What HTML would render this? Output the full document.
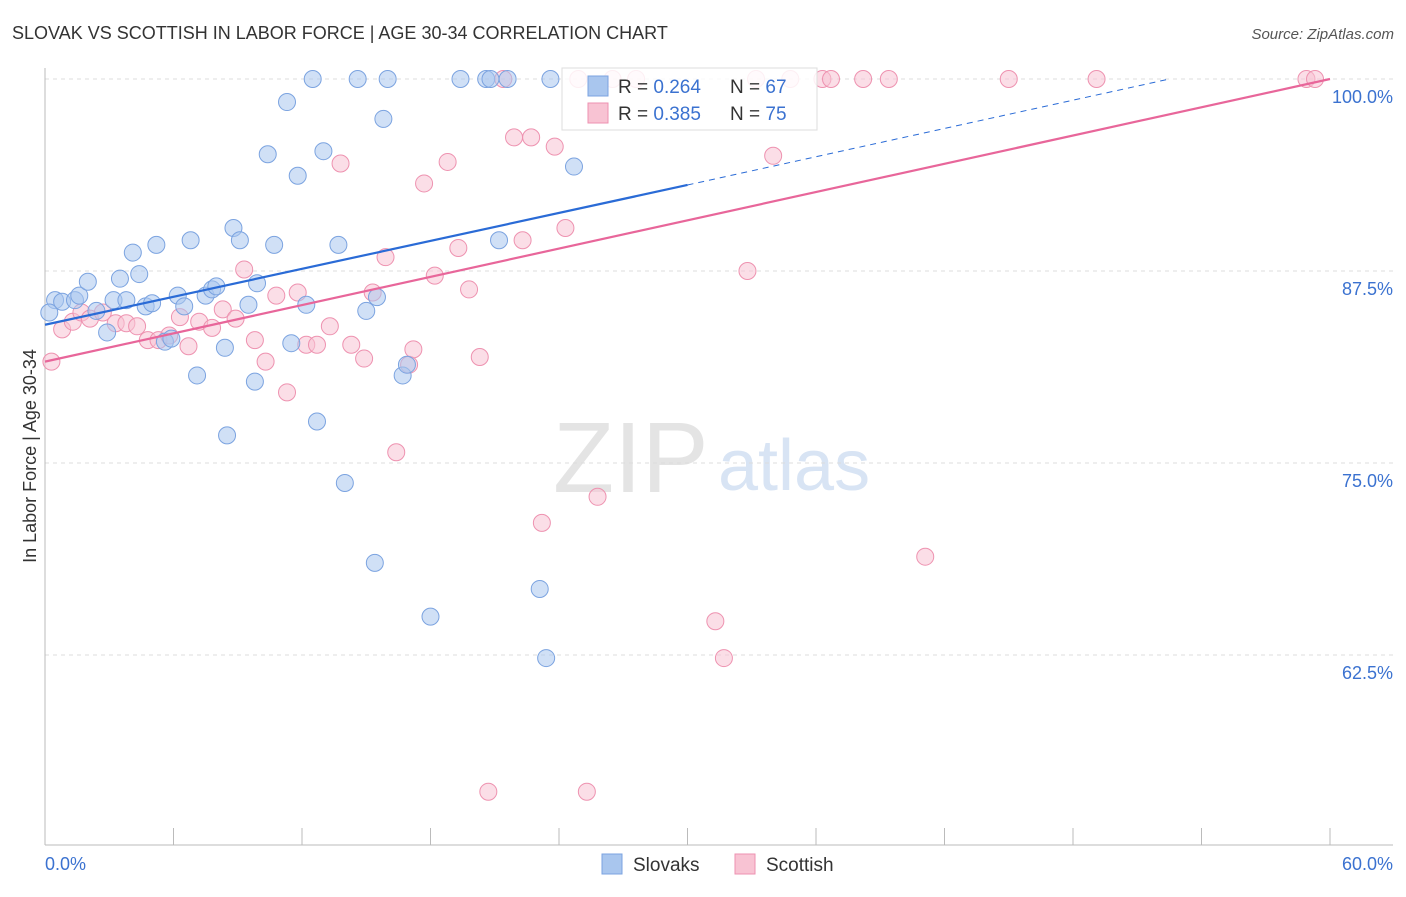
<!DOCTYPE html>
<html><head><meta charset="utf-8"><style>
body{margin:0;background:#fff;font-family:"Liberation Sans",sans-serif}
svg text{font-family:"Liberation Sans",sans-serif}
</style></head><body>
<svg id="c" width="1406" height="892">
<text x="12" y="39" font-size="18" fill="#333">SLOVAK VS SCOTTISH IN LABOR FORCE | AGE 30-34 CORRELATION CHART</text>
<text x="1394" y="39" font-size="15" fill="#555" font-style="italic" text-anchor="end">Source: ZipAtlas.com</text>
<text x="36" y="456" font-size="18" fill="#333" transform="rotate(-90 36 456)" text-anchor="middle">In Labor Force | Age 30-34</text>
<text x="553" y="492" font-size="100" fill="#e4e4e4" font-family="Liberation Serif">ZIP</text>
<text x="718" y="490" font-size="72" fill="#d8e4f4">atlas</text>
<g id="grid"></g><g id="marks"></g>
<g>
<rect x="562" y="68" width="255" height="62" fill="#fff" fill-opacity="0.85" stroke="#ddd"/>
<rect x="588" y="76" width="20" height="20" fill="#a9c6ee" stroke="#7ba3e0"/>
<text x="618" y="93" font-size="19" fill="#333">R = <tspan fill="#3b72d0">0.264</tspan></text>
<text x="730" y="93" font-size="19" fill="#333">N = <tspan fill="#3b72d0">67</tspan></text>
<rect x="588" y="103" width="20" height="20" fill="#f8c3d3" stroke="#ee92b0"/>
<text x="618" y="120" font-size="19" fill="#333">R = <tspan fill="#3b72d0">0.385</tspan></text>
<text x="730" y="120" font-size="19" fill="#333">N = <tspan fill="#3b72d0">75</tspan></text>
</g>
<g>
<rect x="602" y="854" width="20" height="20" fill="#a9c6ee" stroke="#7ba3e0"/>
<text x="633" y="871" font-size="19" fill="#333">Slovaks</text>
<rect x="735" y="854" width="20" height="20" fill="#f8c3d3" stroke="#ee92b0"/>
<text x="766" y="871" font-size="19" fill="#333">Scottish</text>
</g>
</svg>
<script>
const xTicks=[0,6,12,18,24,30,36,42,48,54,60];
const yTicks=[100,87.5,75,62.5];
const slovakX=[0.47,0.2,0.8,1.4,1.6,2.0,2.4,2.9,3.2,3.5,3.8,4.1,4.4,4.7,5.0,5.2,5.6,5.9,6.2,6.5,6.8,7.1,7.5,7.8,8.0,8.4,8.5,8.8,9.1,9.5,9.8,9.9,10.4,10.7,11.3,11.5,11.8,12.2,12.5,12.7,13.0,13.7,14.0,14.6,15.0,15.4,15.5,15.8,16.0,16.7,16.9,18.0,19.4,20.6,20.8,21.2,21.6,23.1,23.4,23.6,24.7];
const slovakY=[85.6,84.8,85.5,85.6,85.9,86.8,84.9,83.5,85.6,87.0,85.6,88.7,87.3,85.2,85.4,89.2,82.9,83.1,85.9,85.2,89.5,80.7,85.9,86.3,86.5,82.5,76.8,90.3,89.5,85.3,80.3,86.7,95.1,89.2,98.5,82.8,93.7,85.3,100,77.7,95.3,89.2,73.7,100,84.9,68.5,85.8,97.4,100,80.7,81.4,65.0,100,100,100,89.5,100,66.8,62.3,100,94.3];
const scotX=[0.3,0.8,1.3,1.7,2.1,2.7,3.3,3.8,4.3,4.8,5.3,5.8,6.3,6.7,7.2,7.8,8.3,8.9,9.3,9.8,10.3,10.8,11.3,11.8,12.2,12.7,13.3,13.8,14.3,14.9,15.3,15.9,16.4,17.0,17.2,17.7,18.2,18.8,19.3,19.8,20.3,20.7,21.4,21.9,22.3,22.7,23.2,23.8,24.3,24.9,25.3,25.8,26.5,27.6,31.3,31.7,32.8,33.2,34.0,34.8,36.3,36.7,38.2,39.4,41.1,45.0,49.1,58.9,59.3];
const scotY=[81.6,83.7,84.2,84.8,84.4,84.8,84.1,84.1,83.9,83.0,83.0,83.3,84.5,82.6,84.2,83.8,85.0,84.4,87.6,83.0,81.6,85.9,79.6,86.1,82.7,82.7,83.9,94.5,82.7,81.8,86.1,88.4,75.7,81.4,82.4,93.2,87.2,94.6,89.0,86.3,81.9,53.6,100,96.2,89.5,96.2,71.1,95.6,90.3,100,53.6,72.8,100,100,64.7,62.3,87.5,100,95.0,100,100,100,100,100,68.9,100,100,100,100];
const blueTrend=[[0,84.0],[30,93.1]], blueDash=[[30,93.1],[52.5,100]], pinkTrend=[[0,81.6],[60,100]];
const X=v=>45+v/60*1285, Y=v=>79+(100-v)*15.36;
const NS='http://www.w3.org/2000/svg';
const g=document.getElementById('grid'), m=document.getElementById('marks');
function mk(tag,attrs,parent){const e=document.createElementNS(NS,tag);for(const k in attrs)e.setAttribute(k,attrs[k]);parent.appendChild(e);return e;}
yTicks.forEach(t=>{
 const l=mk('line',{x1:45,x2:1393,y1:Y(t),y2:Y(t),stroke:'#ddd','stroke-dasharray':'4,4'},g);
 
 
 const tx=mk('text',{x:1393,y:Y(t)+24,'font-size':18,fill:'#3b72d0','text-anchor':'end'},g);tx.textContent=t.toFixed(1)+'%';
 
 
});
mk('line',{x1:45,x2:45,y1:68,y2:845,stroke:'#bbb'},g);
mk('line',{x1:45,x2:1393,y1:845,y2:845,stroke:'#bbb'},g);
xTicks.forEach(t=>{const l=mk('line',{x1:X(t),x2:X(t),y1:828,y2:845,stroke:'#bbb'},g);
 
 });
[[0,'start',45],[60,'end',1393]].forEach(([v,a,px])=>{const tx=mk('text',{x:px,y:870,'font-size':18,fill:'#3b72d0','text-anchor':a},g);tx.textContent=v.toFixed(1)+'%';
 
 });
function pts(xs,ys,fill,stroke,name){xs.forEach((x,i)=>{const c=mk('circle',{cx:X(x),cy:Y(ys[i]),r:8.5,fill:fill,'fill-opacity':0.55,stroke:stroke,'stroke-width':1},m);
 
 });}
pts(scotX,scotY,'#f8c3d3','#ee92b0','scottish-point');
pts(slovakX,slovakY,'#a9c6ee','#7ba3e0','slovak-point');
function ln(p,col,dash,name){const l=mk('line',{x1:X(p[0][0]),y1:Y(p[0][1]),x2:X(p[1][0]),y2:Y(p[1][1]),stroke:col,'stroke-width':dash?1:2.2},m);if(dash)l.setAttribute('stroke-dasharray','6,5');
 
 }
ln(blueTrend,'#2a6bd6',false,'slovak-trend-line');
ln(blueDash,'#2a6bd6',true,'slovak-trend-extension');
ln(pinkTrend,'#e8669a',false,'scottish-trend-line');
</script>
</body></html>
